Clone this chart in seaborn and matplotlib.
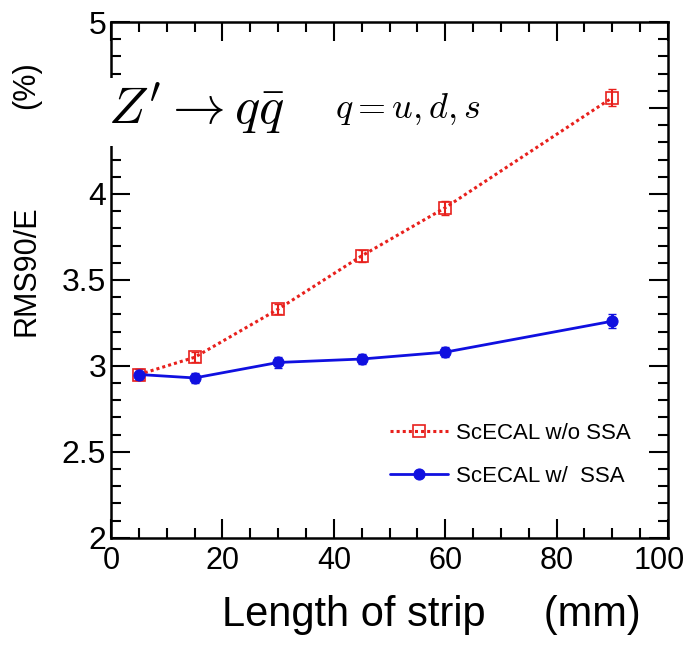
import numpy as np
import pandas as pd
import matplotlib
matplotlib.use("Agg")
import matplotlib.pyplot as plt
import seaborn as sns
from matplotlib.patches import Rectangle
from matplotlib.ticker import MultipleLocator

# strip length (mm)
strip_length = [5, 15, 30, 45, 60, 90]
# RMS90/E (%) without / with SSA
rms_wo_ssa = [2.95, 3.05, 3.33, 3.64, 3.92, 4.56]
err_wo_ssa = [0.03, 0.03, 0.03, 0.035, 0.04, 0.05]
rms_w_ssa = [2.95, 2.93, 3.02, 3.04, 3.08, 3.26]
err_w_ssa = [0.03, 0.03, 0.03, 0.03, 0.03, 0.04]

x_ticks = [0, 20, 40, 60, 80, 100]
y_ticks = [2, 2.5, 3, 3.5, 4, 4.5, 5]
y_ticklabels = ["2", "2.5", "3", "3.5", "4", "", "5"]

label_wo = "ScECAL w/o SSA"
label_w = "ScECAL w/  SSA"

sns.set_style("ticks")
plt.rcParams["font.family"] = ["Liberation Sans", "DejaVu Sans"]
plt.rcParams["mathtext.fontset"] = "cm"
plt.rcParams["text.color"] = "black"
plt.rcParams["xtick.color"] = "black"
plt.rcParams["ytick.color"] = "black"

df = pd.DataFrame({
    "length": strip_length * 2,
    "rms": rms_wo_ssa + rms_w_ssa,
    "err": err_wo_ssa + err_w_ssa,
    "sample": [label_wo] * 6 + [label_w] * 6,
})

fig = plt.figure(figsize=(6.9, 6.48), dpi=100)
ax = fig.add_axes([0.161, 0.170, 0.807, 0.796])

red = "#e8201c"
blue = "#1010e0"

d = df[df["sample"] == label_wo]
ax.errorbar(d["length"], d["rms"], yerr=d["err"], fmt="none", ecolor=red, elinewidth=1.5, capsize=3, zorder=2)
sns.lineplot(data=d, x="length", y="rms", ax=ax, color=red, linestyle=(0, (1, 1.0)), linewidth=2.2,
             marker="s", markersize=9, markerfacecolor="none", markeredgecolor=red, markeredgewidth=1.2,
             label=label_wo, zorder=3)

d = df[df["sample"] == label_w]
ax.errorbar(d["length"], d["rms"], yerr=d["err"], fmt="none", ecolor=blue, elinewidth=2, capsize=3, zorder=2)
sns.lineplot(data=d, x="length", y="rms", ax=ax, color=blue, linewidth=2, marker="o", markersize=8,
             markeredgecolor=blue, label=label_w, zorder=3)

ax.set_xlim(0, 100)
ax.set_ylim(2, 5)
ax.set_xticks(x_ticks)
# last x label drawn separately so it stays inside the figure
ax.set_xticklabels([str(t) for t in x_ticks[:-1]] + [""])
ax.xaxis.set_minor_locator(MultipleLocator(5))
ax.set_yticks(y_ticks)
ax.set_yticklabels(y_ticklabels)
ax.yaxis.set_minor_locator(MultipleLocator(0.1))
ax.tick_params(which="both", direction="in", top=True, right=True, width=1.5, labelsize=23)
ax.tick_params(which="major", length=14)
ax.tick_params(which="minor", length=7)
ax.tick_params(axis="x", pad=6, labelsize=22)
for s in ax.spines.values():
    s.set_linewidth(1.8)
    s.set_color("black")

ax.annotate(str(x_ticks[-1]), xy=(x_ticks[-1], 2), xycoords="data", xytext=(-6, -6),
            textcoords="offset points", ha="center", va="top", fontsize=22)

ax.set_xlabel("")
ax.set_ylabel("")
fig.text(0.625, 0.02, "Length of strip     (mm)", fontsize=30, ha="center", va="bottom")
fig.text(0.038, 0.583, "RMS90/E", fontsize=22, rotation=90, ha="center", va="center")
fig.text(0.038, 0.868, "(%)", fontsize=22, rotation=90, ha="center", va="center")

leg = ax.legend(loc="lower right", bbox_to_anchor=(0.97, 0.06), frameon=False, fontsize=16,
                handlelength=2.6, labelspacing=1.0, handletextpad=0.4)

# white patch behind the process label
fig.add_artist(Rectangle((0.065, 0.775), 0.42, 0.105, transform=fig.transFigure,
                         facecolor="white", edgecolor="none", zorder=5))
fig.text(0.157, 0.832, r"$Z' \rightarrow q\bar{q}$", fontsize=38, ha="left", va="center", zorder=6)
fig.text(0.485, 0.832, r"$q = u, d, s$", fontsize=26, ha="left", va="center", zorder=6)

fig.savefig("out.png", dpi=100)
